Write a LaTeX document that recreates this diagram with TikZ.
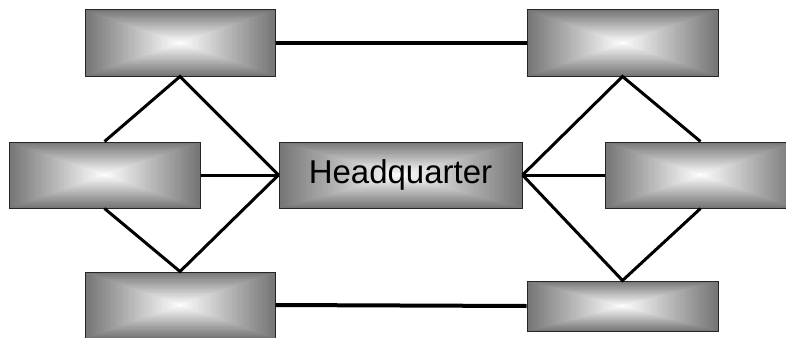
\documentclass[tikz,border=0pt]{standalone}
\usepackage{fontspec}
\setmainfont{Liberation Sans}
\usetikzlibrary{calc}
\definecolor{edgegray}{RGB}{118,118,118}
\tikzset{
  gbox/.style={draw=black!85, line width=1pt, rectangle, inner sep=0pt,
    minimum width=#1, minimum height=66pt,
    path picture={
      \foreach \i [evaluate=\i as \f using 1-\i/40, evaluate=\i as \c using 100*(1-\i/40)] in {0,...,40}{
        \fill[edgegray!\c!white]
          ($(path picture bounding box.center)!\f!(path picture bounding box.south west)$)
          rectangle
          ($(path picture bounding box.center)!\f!(path picture bounding box.north east)$);
      }
    }},
  gbox/.default=191pt,
  link/.style={line width=3pt, black},
  thicklink/.style={line width=4pt, black}
}
\begin{document}
\begin{tikzpicture}[x=1pt,y=-1pt]
\useasboundingbox (0,0) rectangle (786,337);
\clip (0,0) rectangle (786,337);
\node[gbox=190pt] (tl) at (180,43) {};
\node[gbox] (tr) at (622.5,43) {};
\node[gbox] (ml) at (104.5,175) {};
\node[gbox=243pt, font=\fontsize{33}{40}\selectfont] (hq) at (400.5,175) {Headquarter};
\node[gbox] (mr) at (700.5,175) {};
\node[gbox=190pt] (bl) at (180,305) {};
\node[gbox, minimum height=50pt] (br) at (622.5,306) {};
% left side
\draw[link] (ml.north) -- (tl.south) -- (hq.west);
\draw[link] (ml.south) -- (bl.north) -- (hq.west);
\draw[link] (ml.east) -- (hq.west);
% right side
\draw[link] (mr.north) -- (tr.south) -- (hq.east);
\draw[link] (mr.south) -- (br.north) -- (hq.east);
\draw[link] (mr.west) -- (hq.east);
% horizontals
\draw[thicklink] (tl.east) -- (tr.west);
\draw[thicklink] (bl.east) -- (br.west);
\end{tikzpicture}
\end{document}
